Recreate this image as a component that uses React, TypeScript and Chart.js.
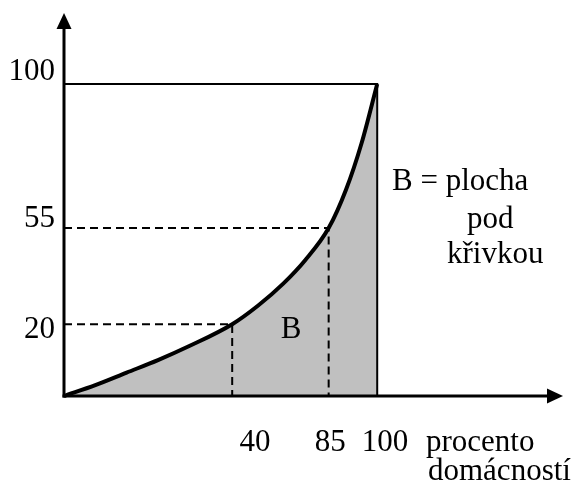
import React, { useEffect, useRef } from "react";
import { Chart, registerables } from "chart.js";

Chart.register(...registerables);

// Lorenz curve (share of households vs. share of income), in diagram units
const curveX = [0, 10, 20, 30, 40, 53.7, 62, 70, 77, 84.5, 90, 95, 100];
const curveY = [0, 3.5, 7.5, 11.5, 16, 23.0, 29, 36, 43.5, 53.8, 66, 81, 100];

// dashed guide lines (x, y)
const guideX = [53.7, 84.5];
const guideY = [23.0, 53.8];

// tick labels and where they sit
const xTickLabels = ["40", "85", "100"];
const xTickAt = [61, 85, 102.5];
const yTickLabels = ["100", "55", "20"];
const yTickAt = [101.3, 54.2, 18.6];

const xAxisTitle = ["procento", "domácností"];
const noteLines = ["B = plocha", "pod", "křivkou"];
const areaLabel = "B";

const X_MAX = 159;
const Y_MAX = 122.4;

const FONT = '31px "Liberation Serif", "Times New Roman", serif';

const decorPlugin = {
  id: "decor",
  afterDatasetsDraw(chart: any) {
    const { ctx, scales } = chart;
    const xs = scales.x;
    const ys = scales.y;
    const px = (v: number) => xs.getPixelForValue(v);
    const py = (v: number) => ys.getPixelForValue(v);
    const x0 = px(0);
    const y0 = py(0);
    ctx.save();
    ctx.strokeStyle = "#000";
    ctx.fillStyle = "#000";
    ctx.lineWidth = 3;
    ctx.lineCap = "butt";
    // y axis
    ctx.beginPath();
    ctx.moveTo(x0, y0 + 1.5);
    ctx.lineTo(x0, py(Y_MAX) + 10);
    ctx.stroke();
    // x axis
    ctx.beginPath();
    ctx.moveTo(x0 - 1.5, y0);
    ctx.lineTo(px(X_MAX) - 10, y0);
    ctx.stroke();
    // arrow heads
    const yt = py(Y_MAX);
    ctx.beginPath();
    ctx.moveTo(x0, yt - 1);
    ctx.lineTo(x0 - 7.5, yt + 15);
    ctx.lineTo(x0 + 7.5, yt + 15);
    ctx.closePath();
    ctx.fill();
    const xt = px(X_MAX);
    ctx.beginPath();
    ctx.moveTo(xt + 1, y0);
    ctx.lineTo(xt - 15, y0 - 7.5);
    ctx.lineTo(xt - 15, y0 + 7.5);
    ctx.closePath();
    ctx.fill();

    // texts
    ctx.font = FONT;
    ctx.textBaseline = "alphabetic";
    ctx.textAlign = "center";
    xTickLabels.forEach((t, i) => ctx.fillText(t, px(xTickAt[i]), 451));
    ctx.textAlign = "right";
    yTickLabels.forEach((t, i) => ctx.fillText(t, x0 - 9, py(yTickAt[i])));
    ctx.textAlign = "left";
    ctx.fillText(xAxisTitle[0], 426, 451);
    ctx.fillText(xAxisTitle[1], 428, 480);
    ctx.fillText(noteLines[0], 392, 190);
    ctx.fillText(noteLines[1], 467, 228);
    ctx.fillText(noteLines[2], 447, 263);
    ctx.textAlign = "center";
    ctx.fillText(areaLabel, 291, 338);
    ctx.restore();
  },
};

export default function App() {
  const ref = useRef<HTMLCanvasElement>(null);
  useEffect(() => {
    document.body.style.margin = "0";
    const canvas = ref.current!;
    const pts = (xs: number[], ys: number[]) => xs.map((x, i) => ({ x, y: ys[i] }));
    const chart = new Chart(canvas, {
      type: "line",
      data: {
        datasets: [
          {
            data: [
              { x: 0, y: guideY[0] },
              { x: guideX[0], y: guideY[0] },
              { x: guideX[0], y: 0 },
            ],
            borderColor: "#000",
            borderWidth: 2,
            borderDash: [8, 5],
            pointRadius: 0,
            fill: false,
            clip: false,
          } as any,
          {
            data: [
              { x: 0, y: guideY[1] },
              { x: guideX[1], y: guideY[1] },
              { x: guideX[1], y: 0 },
            ],
            borderColor: "#000",
            borderWidth: 2,
            borderDash: [8, 5],
            pointRadius: 0,
            fill: false,
            clip: false,
          } as any,
          {
            data: [
              { x: 0, y: 100 },
              { x: 100, y: 100 },
              { x: 100, y: 0 },
            ],
            borderColor: "#000",
            borderWidth: 2,
            pointRadius: 0,
            fill: false,
            clip: false,
          } as any,
          {
            data: pts(curveX, curveY),
            borderColor: "#000",
            borderWidth: 4,
            backgroundColor: "#c0c0c0",
            pointRadius: 0,
            fill: "origin",
            cubicInterpolationMode: "monotone",
            clip: false,
          } as any,
        ],
      },
      options: {
        animation: false,
        responsive: false,
        maintainAspectRatio: false,
        layout: { padding: { left: 64, top: 14, right: 9, bottom: 92 } },
        plugins: {
          legend: { display: false },
          tooltip: { enabled: false },
        },
        scales: {
          x: { type: "linear", min: 0, max: X_MAX, display: false },
          y: { type: "linear", min: 0, max: Y_MAX, display: false },
        },
      },
      plugins: [decorPlugin],
    });
    return () => chart.destroy();
  }, []);
  return (
    <div style={{ width: 571, height: 488, background: "#fff" }}>
      <canvas ref={ref} width={571} height={488} style={{ display: "block" }} />
    </div>
  );
}
